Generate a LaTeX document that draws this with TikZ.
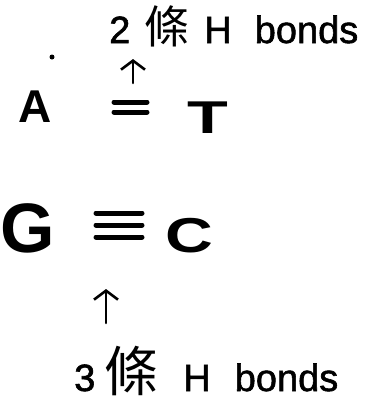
\documentclass[tikz,border=0pt]{standalone}
\usepackage{fontspec}
\setmainfont{Liberation Sans}
\newfontfamily\hand[FakeBold=1.5]{Liberation Sans}
\newfontfamily\cjk{Noto Sans CJK TC}
\usetikzlibrary{arrows.meta}
\tikzset{
  base/.style={inner sep=0pt, anchor=base},
  bigletter/.style={base, font=\fontsize{46}{46}\selectfont\bfseries},
  lbl/.style={inner sep=0pt, anchor=base west, font=\hand\fontsize{38}{38}\selectfont},
  bondline/.style={line width=5pt, line cap=round},
  ptr/.style={line width=2.6pt, line cap=round, -{Straight Barb[length=9pt,width=24pt,line width=2.6pt]}}
}
\begin{document}
\begin{tikzpicture}[x=1pt,y=-1pt]
\useasboundingbox (0,0) rectangle (375,416);
% top label
\node[lbl] (lab2) at (109,43) {2\hspace{14pt}{\cjk\fontsize{45}{45}\selectfont 條}\hspace{15pt}H\hspace{23pt}bonds};
% A = T
\node[bigletter] (A) at (35,122) {A};
\node[bigletter] (T) at (208,133) {\scalebox{1.45}[1]{T}};
\fill (52,57) circle (2.5pt);
\draw[bondline] (114,102) -- (147,102);
\draw[bondline] (114,112) -- (147,112);
\node[inner sep=0pt, minimum width=36pt, minimum height=14pt] (dbl) at (130,107) {};
\coordinate (a1s) at (133,83);
\coordinate (a1e) at (133,59);
\draw[ptr] (a1s) -- (a1e);
% G = C
\node[base, font=\fontsize{70}{70}\selectfont\bfseries] (G) at (28,252) {G};
\node[bigletter, font=\fontsize{49}{49}\selectfont\bfseries] (C) at (189,252) {\scalebox{1.35}[1]{C}};
\draw[bondline] (96,213) -- (142,213);
\draw[bondline] (96,225) -- (142,225);
\draw[bondline] (96,237) -- (142,237);
\node[inner sep=0pt, minimum width=48pt, minimum height=28pt] (tpl) at (119,225) {};
\coordinate (a2s) at (106,323);
\coordinate (a2e) at (106,289);
\draw[ptr] (a2s) -- (a2e);
% bottom label
\node[lbl] (lab3) at (74,391) {3\hspace{9pt}{\cjk\fontsize{54}{54}\selectfont 條}\hspace{25pt}H\hspace{24pt}bonds};
\end{tikzpicture}
\end{document}
